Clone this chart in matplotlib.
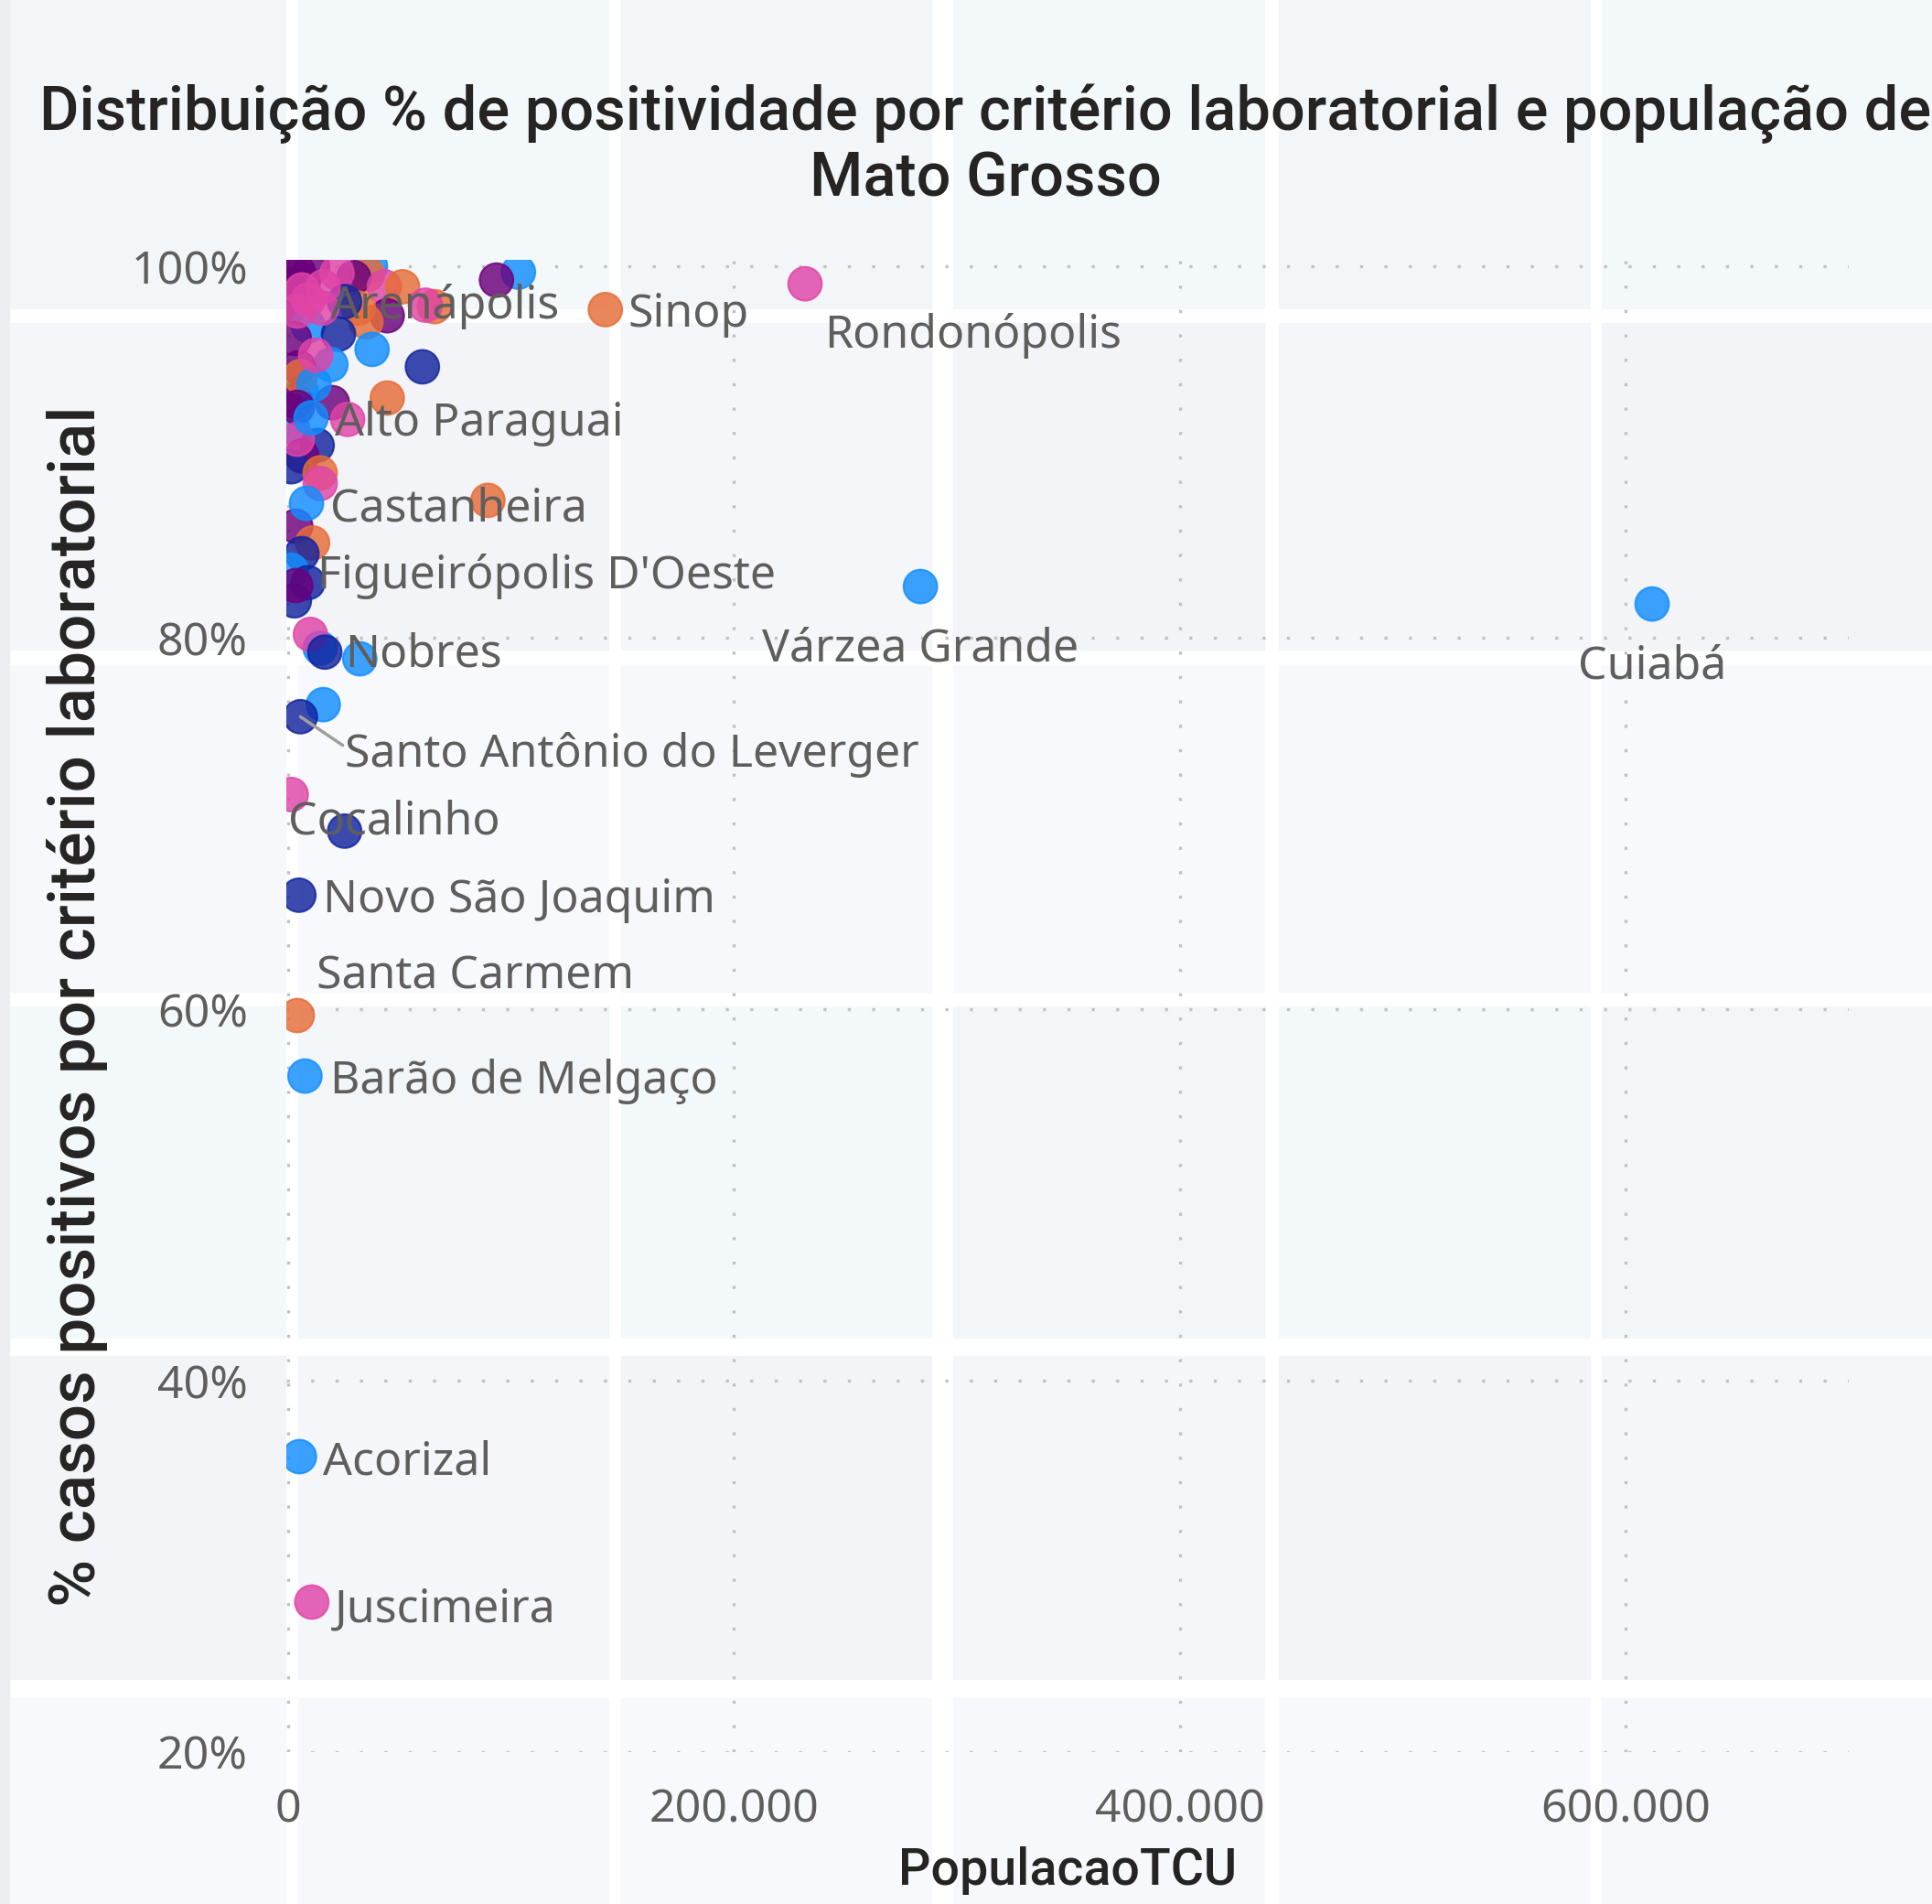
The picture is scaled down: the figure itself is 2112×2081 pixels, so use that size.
import matplotlib
matplotlib.use("Agg")
import matplotlib.pyplot as plt
from matplotlib.patches import Rectangle
from matplotlib.ticker import FuncFormatter, FixedLocator

# Data: population (TCU) and % positive cases by lab criterion, one entry per municipality
populacao = [
    1000, 4500, 10900, 2000, 7000, 1500, 36900, 35600, 29400, 21900,
    43100, 51300, 65650, 61550, 44440, 34880, 31470, 103280, 93430, 25300,
    6000, 2000, 9000, 22570, 2750, 37620, 19160, 4800, 60200, 44440,
    19820, 3400, 5470, 11610, 26670, 4100, 13000, 6160, 1370, 14360,
    89580, 3400, 10960, 6160, 1370, 8900, 2750, 14360, 32130, 15720,
    25320, 6160, 4100, 15060, 15720, 12310, 4100, 14360, 9970,
    142260, 231840, 9000, 10260, 8210, 3400, 283600, 611800, 16410,
    5470, 1370, 4800, 4100, 7510, 5050, 10590,
]
positividade = [
    99.9, 99.7, 100.0, 99.0, 99.2, 97.9, 100.0, 99.56, 99.39, 99.64,
    98.90, 98.90, 97.83, 97.91, 97.34, 97.01, 97.75, 99.69, 99.26, 98.1,
    93.2, 91.3, 96.8, 96.35, 96.11, 95.53, 94.71, 94.55, 94.59, 92.91,
    92.66, 92.74, 94.06, 93.65, 91.76, 92.41, 90.36, 89.79, 89.21, 88.88,
    87.40, 86.01, 85.11, 84.53, 83.63, 82.97, 81.99, 79.44, 78.87, 76.40,
    69.59, 98.73, 97.59, 97.75, 98.90, 95.21, 90.69, 88.31, 80.18,
    97.67, 99.06, 98.2, 91.84, 87.24, 82.81, 82.76, 81.82, 79.23,
    75.75, 71.56, 66.14, 59.66, 56.40, 35.91, 28.08,
]
# colour group of each point (0 blue, 1 dark blue, 2 orange, 3 purple, 4 pink)
grupo = [
    3, 3, 3, 3, 3, 3, 0, 2, 3, 4,
    4, 2, 2, 4, 3, 2, 2, 0, 3, 1,
    0, 0, 0, 1, 3, 0, 0, 3, 1, 2,
    3, 3, 2, 0, 4, 3, 1, 3, 1, 2,
    2, 3, 2, 1, 0, 1, 1, 0, 0, 0,
    1, 4, 4, 4, 4, 4, 4, 4, 4,
    2, 4, 4, 0, 0, 3, 0, 0, 1,
    1, 4, 1, 2, 0, 0, 4,
]
municipio = [""] * 59 + [
    "Sinop", "Rondonópolis", "Arenápolis", "Alto Paraguai", "Castanheira",
    "Figueirópolis D'Oeste", "Várzea Grande", "Cuiabá", "Nobres",
    "Santo Antônio do Leverger", "Cocalinho", "Novo São Joaquim", "Santa Carmem",
    "Barão de Melgaço", "Acorizal", "Juscimeira",
]

# label placement (offset in pixels from the point, horizontal alignment)
label_pos = {
    "Sinop": (25, -6, "left"),
    "Rondonópolis": (21, -57, "left"),
    "Arenápolis": (24, -7, "left"),
    "Alto Paraguai": (26, -6, "left"),
    "Castanheira": (26, -6, "left"),
    "Figueirópolis D'Oeste": (24, 10, "left"),
    "Várzea Grande": (0, -68, "center"),
    "Cuiabá": (0, -68, "center"),
    "Nobres": (22, -3, "left"),
    "Cocalinho": (-3, -30, "left"),
    "Novo São Joaquim": (26, -6, "left"),
    "Santa Carmem": (21, 42, "left"),
    "Barão de Melgaço": (28, -6, "left"),
    "Acorizal": (26, -6, "left"),
    "Juscimeira": (25, -8, "left"),
}

palette = ["#118DFF", "#12239E", "#E66C37", "#6B007B", "#E044A7"]
text_grey = "#605E5C"
dark = "#252423"

W, H = 2112, 2081
fig = plt.figure(figsize=(W / 100, H / 100), dpi=100)
fig.patch.set_facecolor("white")

# tiled report background
col_edges = [(0, 312), (326, 665), (679, 1018), (1042, 1382), (1398, 1738), (1751, 2112)]
row_edges = [(0, 337), (353, 710), (727, 1084), (1100, 1462), (1482, 1835), (1856, 2081)]
tints = ["#F3F6F9", "#F7F9FD", "#F3F4F8", "#F3F8FA", "#F6F8FB", "#F4F6FA"]
for r, (y0, y1) in enumerate(row_edges):
    for c, (x0, x1) in enumerate(col_edges):
        fig.patches.append(Rectangle((x0 / W, 1 - y1 / H), (x1 - x0) / W, (y1 - y0) / H,
                                     transform=fig.transFigure, color=tints[(r * 5 + c * 3) % 6],
                                     zorder=-10))
fig.patches.append(Rectangle((0, 0), 10 / W, 1, transform=fig.transFigure,
                             color="#ECEEF1", zorder=-9))

ax = fig.add_axes([312.6 / W, 1 - 1915 / H, (2021 - 312.6) / W, (1915 - 284) / H])
ax.set_facecolor("none")

cores = [palette[g] for g in grupo]
ax.scatter(populacao, positividade, s=700, c=cores, alpha=0.82,
           edgecolors=cores, linewidths=1.5, zorder=3, clip_on=True)

for x, y, nome in zip(populacao, positividade, municipio):
    if not nome:
        continue
    if nome == "Santo Antônio do Leverger":
        ax.annotate(nome, xy=(x, y), xytext=(49, -42), textcoords="offset pixels",
                    ha="left", va="center", fontsize=36, color=text_grey,
                    family="Noto Sans", zorder=5,
                    arrowprops=dict(arrowstyle="-", color="#A19F9D", lw=2.5,
                                    shrinkA=0, shrinkB=0, relpos=(0.08, 0.0)))
        continue
    dx, dy, ha = label_pos[nome]
    ax.annotate(nome, xy=(x, y), xytext=(dx, dy), textcoords="offset pixels",
                ha=ha, va="center", fontsize=36, color=text_grey,
                family="Noto Sans", zorder=5)

ax.set_xlim(-1000, 700000)
ax.set_ylim(20, 100.35)
ax.xaxis.set_major_locator(FixedLocator([0, 200000, 400000, 600000]))
ax.yaxis.set_major_locator(FixedLocator([20, 40, 60, 80, 100]))
ax.xaxis.set_major_formatter(FuncFormatter(lambda v, p: f"{int(v):,}".replace(",", ".")))
ax.yaxis.set_major_formatter(FuncFormatter(lambda v, p: f"{int(v)}%"))

ax.grid(True, color="#C3C1BF", linestyle=(0, (1, 7)), linewidth=2.4)
ax.set_axisbelow(True)
for s in ax.spines.values():
    s.set_visible(False)
ax.tick_params(length=0, labelsize=36, labelcolor=text_grey)
ax.tick_params(axis="y", pad=30)
ax.tick_params(axis="x", pad=28)
for lab in ax.get_xticklabels() + ax.get_yticklabels():
    lab.set_family("Noto Sans")

ax.set_xlabel("PopulacaoTCU", fontsize=40, color=dark, family="Roboto", fontweight="medium")
ax.xaxis.set_label_coords(0.5, -0.0797)
ax.xaxis.label.set_va("center")
ax.set_ylabel("% casos positivos por critério laboratorial", fontsize=51, color=dark,
              family="Roboto", fontweight="medium")
ax.yaxis.set_label_coords(-0.1338, 0.5)
ax.yaxis.label.set_va("center")

fig.text(1077 / W, 1 - 160 / H,
         "Distribuição % de positividade por critério laboratorial e população de\nMato Grosso",
         ha="center", va="center", fontsize=48, color=dark, family="Roboto",
         fontweight="medium", linespacing=1.15)

fig.savefig("out.png", dpi=100, facecolor=fig.get_facecolor())
